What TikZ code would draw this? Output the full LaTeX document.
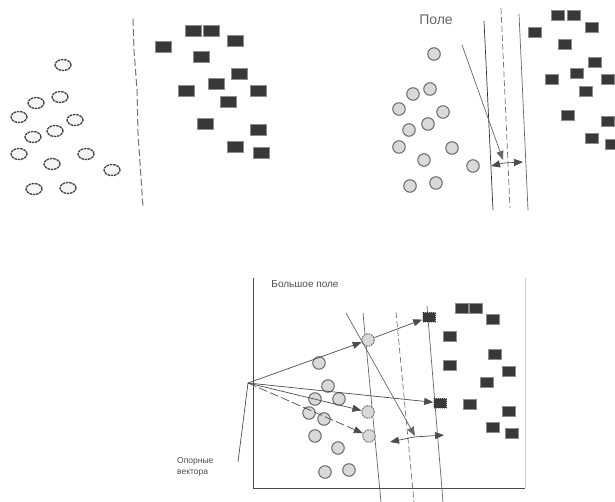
\documentclass[tikz,border=0pt]{standalone}
\usepackage{fontspec}
\setmainfont{Liberation Sans}
\usetikzlibrary{arrows.meta,shapes.geometric}
\begin{document}
\begin{tikzpicture}[x=1pt,y=-1pt,
  dotA/.style={ellipse,draw=black!75,fill=black!4,line width=1.3pt,dash pattern=on 2.6pt off 0.8pt,minimum width=16pt,minimum height=11pt,inner sep=0pt},
  dotB/.style={circle,draw=black!60,fill=black!15,line width=1pt,minimum size=12.5pt,inner sep=0pt},
  sqA/.style={rectangle,fill=black!78,draw=black!45,line width=0.6pt,minimum width=16pt,minimum height=10.5pt,inner sep=0pt},
  sqB/.style={sqA,minimum width=13pt,minimum height=10pt},
  sepline/.style={draw=black!60,line width=0.7pt},
  sepdash/.style={draw=black!55,line width=0.7pt,dash pattern=on 6pt off 3pt},
  vec/.style={draw=black!70,line width=0.7pt,-{Triangle[length=9pt,width=7pt]}},
  lbl/.style={text=black!70,inner sep=0pt}
]
\useasboundingbox (0,0) rectangle (615,502);
\clip (0,0) rectangle (615,502);

% ---------------- Panel 1 ----------------
\draw[draw=black!55,line width=1pt,dash pattern=on 7pt off 3pt]
  (133,19) -- (134,50) -- (137,90) -- (138,133) -- (143,207);
\foreach \x/\y [count=\i] in {63/65,60/97,36/103,19/117,75/120,55/131,33/137,19/154,86/154,52/164,112/170,34/189,68/188}
  \node[dotA] (pa\i) at (\x,\y) {};
\foreach \x/\y [count=\i] in {193/31,211/31,235/41,163/47,201/57,239/74,216/84,186/91,258/91,228/102,205/124,258/130,235/147,261/153}
  \node[sqA] (qa\i) at (\x,\y) {};

% ---------------- Panel 2 ----------------
\node[lbl,text=black!60,font=\fontsize{14}{16}\selectfont] (pole) at (436,20) {Поле};
\coordinate (b1t) at (484,21);  \coordinate (b1b) at (493,210);
\coordinate (bdt) at (501,8);   \coordinate (bdb) at (510,208);
\coordinate (b2t) at (519,14);  \coordinate (b2b) at (528,210);
\draw[sepline,draw=black!80] (b1t) -- (b1b);
\draw[sepdash] (bdt) -- (bdb);
\draw[sepline] (b2t) -- (b2b);
\coordinate (bst) at (462,45); \coordinate (bse) at (503,160);
\draw[vec,draw=black!60] (bst) -- (bse);
\coordinate (bm) at (504,163);
\coordinate (bl) at (491,166);
\coordinate (br) at (523,162);
\draw[vec] (bm) -- (bl);
\draw[vec] (bm) -- (br);
\foreach \x/\y [count=\i] in {434/54,430/89,413/94,399/109,443/112,428/124,409/130,399/147,452/148,424/160,473/166,410/186,436/183}
  \node[dotB] (pb\i) at (\x,\y) {};
\foreach \x/\y [count=\i] in {558/15,574/15,592/27,535/32,565/44,595/62,577/73,552/79,608/79,586/91,568/115,608/121,592/138,612/144}
  \node[sqB] (qb\i) at (\x,\y) {};

% ---------------- Panel 3 ----------------
\coordinate (ax0) at (253,278);
\coordinate (axO) at (253,488);
\coordinate (ax1) at (525,488);
\coordinate (ax2) at (525,278);
\draw[draw=black!70,line width=0.8pt] (ax0) -- (axO) -- (ax1);
\draw[draw=black!20,line width=0.8pt] (ax1) -- (ax2);
\node[lbl,font=\fontsize{10}{12}\selectfont] (bigm) at (305,284) {Большое поле};
\node[lbl,font=\fontsize{8.5}{11}\selectfont,align=left,anchor=west] (sv) at (177,467) {Опорные\\вектора};

\coordinate (c1t) at (363,313); \coordinate (c1b) at (381,502);
\coordinate (cdt) at (396,312); \coordinate (cdb) at (414,502);
\coordinate (c2t) at (427,306); \coordinate (c2b) at (443,502);
\draw[sepline] (c1t) -- (c1b);
\draw[sepdash] (cdt) -- (cdb);
\draw[sepline] (c2t) -- (c2b);

\foreach \x/\y [count=\i] in {319/363,328/386,315/399,339/399,309/413,324/419,315/436,338/448,325/472,349/470}
  \node[dotB] (pc\i) at (\x,\y) {};
\node[dotB,dash pattern=on 1.5pt off 1pt] (s1) at (368,340) {};
\node[dotB,dash pattern=on 1.5pt off 1pt] (s2) at (368,412) {};
\node[dotB,dash pattern=on 1.5pt off 1pt] (s3) at (369,436) {};
\foreach \x/\y [count=\i] in {462/308,476/308,493/319,450/336,495/354,450/365,509/371,487/382,470/404,509/411,493/427,512/433}
  \node[sqB] (qc\i) at (\x,\y) {};
\node[sqB,draw=black!30,dash pattern=on 1pt off 1pt] (t1) at (429,317) {};
\node[sqB,draw=black!30,dash pattern=on 1pt off 1pt] (t2) at (440,403) {};

\coordinate (O) at (248,383);
\coordinate (svl) at (238,462);
\draw[draw=black!70,line width=0.7pt] (svl) -- (O);

\coordinate (cst) at (346,313); \coordinate (cse) at (415,436);
\draw[vec,draw=black!60] (cst) -- (cse);

\draw[vec] (O) -- (s1);
\draw[vec] (s1) -- (t1);
\draw[vec] (O) -- (t2);
\draw[vec] (O) -- (s2);
\draw[vec,dash pattern=on 9pt off 3pt] (O) -- (s3);

\coordinate (cm) at (414,437);
\coordinate (cl) at (390,442);
\coordinate (cr) at (444,435);
\draw[vec] (cm) -- (cl);
\draw[vec] (cm) -- (cr);
\end{tikzpicture}
\end{document}
